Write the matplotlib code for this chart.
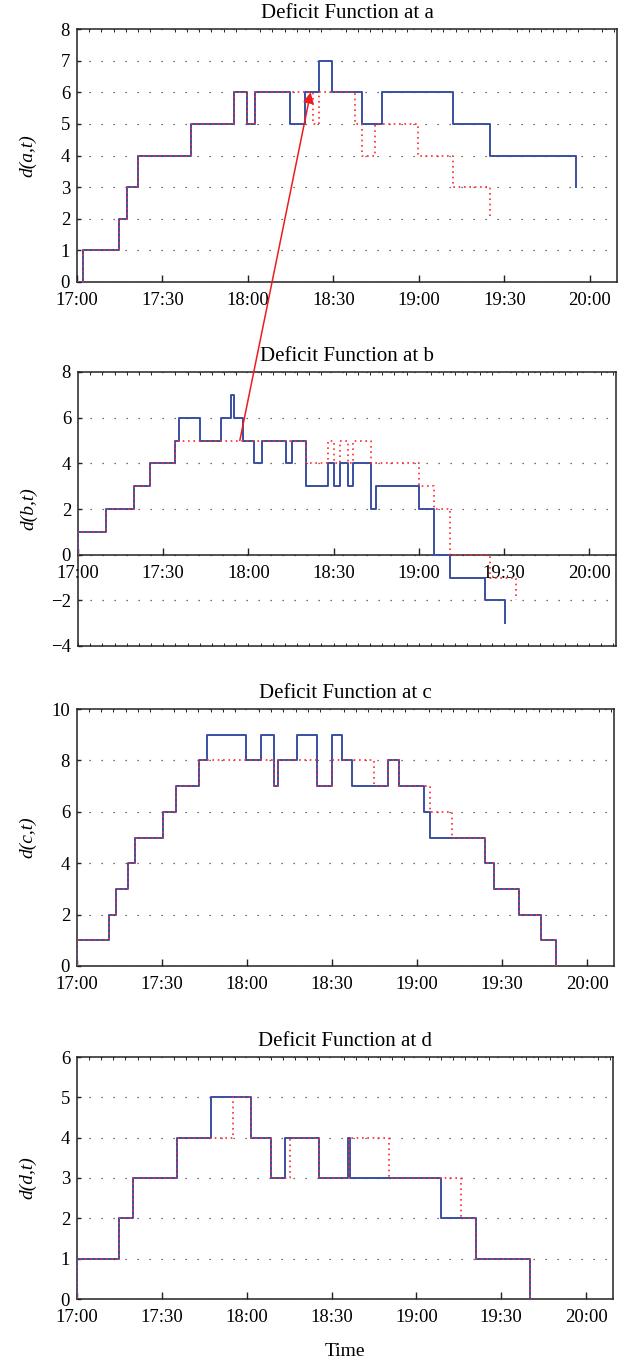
import matplotlib
matplotlib.use('Agg')
import matplotlib.pyplot as plt
from matplotlib.ticker import MultipleLocator
from matplotlib.patches import ConnectionPatch

plt.rcParams['font.family'] = ['Liberation Serif', 'DejaVu Serif']

# ---------------- data (minutes after 17:00) ----------------
blue_a_t = [0, 2.2, 14.7, 17.4, 21.5, 39.9, 55.0, 59.6, 62.5, 74.6, 79.9, 85.0, 89.5, 100.0, 107.0, 131.9, 145.1, 175.0]
blue_a_v = [0, 1, 2, 3, 4, 5, 6, 5, 6, 5, 6, 7, 6, 5, 6, 5, 4, 3]
red_a_t = [0, 2.2, 14.7, 17.4, 21.5, 39.9, 55.0, 59.6, 62.5, 82.8, 85.0, 97.7, 100.0, 104.5, 119.5, 131.9, 145.1]
red_a_v = [0, 1, 2, 3, 4, 5, 6, 5, 6, 5, 6, 5, 4, 5, 4, 3, 2]

blue_b_t = [0, 0, 10.0, 19.9, 25.2, 34.2, 35.4, 42.8, 50.3, 53.8, 54.9, 58.0, 62.0, 64.9, 73.2, 75.5,
            80.2, 88.2, 90.0, 92.2, 95.2, 97.0, 103.2, 105.0, 120.0, 125.5, 130.9, 143.5, 150.3]
blue_b_v = [0, 1, 2, 3, 4, 5, 6, 5, 6, 7, 6, 5, 4, 5, 4, 5,
            3, 4, 3, 4, 3, 4, 2, 3, 2, 0, -1, -2, -3]
red_b_t = [0, 0, 10.0, 19.9, 25.2, 34.2, 80.2, 88.2, 90.0, 92.2, 95.2, 97.0, 103.2, 120.0, 125.5, 131.0, 145.2, 154.4]
red_b_v = [0, 1, 2, 3, 4, 5, 4, 5, 4, 5, 4, 5, 4, 3, 2, 0, -1, -2]

blue_c_t = [0, 0, 11.2, 13.6, 18.1, 20.5, 30.2, 35.0, 43.0, 46.0, 59.7, 65.0, 69.6, 70.9, 77.8, 84.7,
            90.0, 93.4, 96.9, 109.6, 113.6, 122.4, 124.5, 144.1, 147.0, 155.8, 163.7, 169.2]
blue_c_v = [0, 1, 2, 3, 4, 5, 6, 7, 8, 9, 8, 9, 7, 8, 9, 7,
            9, 8, 7, 8, 7, 6, 5, 4, 3, 2, 1, 0]
red_c_t = [0, 0, 11.2, 13.6, 18.1, 20.5, 30.2, 35.0, 43.0, 69.6, 70.9, 84.7, 90.0, 104.7, 109.6, 113.8,
           124.5, 132.2, 144.1, 147.0, 155.8, 163.7, 169.2]
red_c_v = [0, 1, 2, 3, 4, 5, 6, 7, 8, 7, 8, 7, 8, 7, 8, 7,
           6, 5, 4, 3, 2, 1, 0]

blue_d_t = [0, 0, 14.8, 19.9, 35.4, 47.2, 61.4, 68.5, 73.5, 85.5, 95.8, 96.4, 128.7, 141.0, 160.0]
blue_d_v = [0, 1, 2, 3, 4, 5, 4, 3, 4, 3, 4, 3, 2, 1, 0]
red_d_t = [0, 0, 14.8, 19.9, 35.4, 55.1, 61.4, 68.5, 75.4, 85.5, 96.1, 110.4, 135.6, 141.0, 160.0]
red_d_v = [0, 1, 2, 3, 4, 5, 4, 3, 4, 3, 4, 3, 2, 1, 0]

xtick_pos = [0, 30, 60, 90, 120, 150, 180]
xtick_labels = ['17:00', '17:30', '18:00', '18:30', '19:00', '19:30', '20:00']

titles = ['Deficit Function at a', 'Deficit Function at b', 'Deficit Function at c', 'Deficit Function at d']
ylabels = ['d(a,t)', 'd(b,t)', 'd(c,t)', 'd(d,t)']

# ---------------- figure ----------------
W, H = 633, 1361
fig = plt.figure(figsize=(W / 100, H / 100), dpi=100)

def add_ax(l, r, t, b):
    return fig.add_axes([l / W, 1 - b / H, (r - l) / W, (b - t) / H])

boxes = [(77, 617, 29, 282), (78, 616, 372, 646), (77, 614, 709, 966), (77, 613, 1057, 1299)]
ylims = [(0, 8), (-4, 8), (0, 10), (0, 6)]
ysteps = [1, 2, 2, 1]
series = [(blue_a_t, blue_a_v, red_a_t, red_a_v),
          (blue_b_t, blue_b_v, red_b_t, red_b_v),
          (blue_c_t, blue_c_v, red_c_t, red_c_v),
          (blue_d_t, blue_d_v, red_d_t, red_d_v)]

BLUE = '#3a4fa3'
RED = '#ff2a2a'
axes = []
for i in range(4):
    ax = add_ax(*boxes[i])
    axes.append(ax)
    bt, bv, rt, rv = series[i]
    ax.step(bt, bv, where='post', color=BLUE, lw=1.4, zorder=3)
    ax.step(rt, rv, where='post', color=RED, lw=1.2, linestyle=(0, (1, 2.2)), zorder=4)
    ax.set_xlim(0, 189.5)
    ax.set_ylim(*ylims[i])
    ax.yaxis.set_major_locator(MultipleLocator(ysteps[i]))
    ax.set_xticks(xtick_pos)
    ax.set_xticklabels(xtick_labels)
    ax.xaxis.set_minor_locator(MultipleLocator(30 / 7))
    ax.tick_params(axis='both', which='major', direction='in', labelsize=13.5, width=1.0, color='#222222')
    ax.tick_params(axis='x', which='major', length=5, pad=7.5)
    ax.tick_params(axis='y', which='major', length=3, pad=5)
    ax.tick_params(axis='x', which='minor', direction='in', top=True, bottom=False, length=2, width=0.6)
    ax.yaxis.grid(True, linestyle=(0, (1, 8.6)), color='#444444', lw=0.9)
    ax.set_axisbelow(True)
    for s in ax.spines.values():
        s.set_linewidth(1.1)
        s.set_color('#222222')
    ax.set_title(titles[i], fontsize=15, pad=8)
    ax.set_ylabel(ylabels[i], fontsize=14, style='italic')
    ax.yaxis.set_label_coords(-0.075, 0.5)

# panel b: x axis at y = 0, box closed at the bottom
axb = axes[1]
axb.spines['bottom'].set_position(('data', 0))
sec = axb.secondary_xaxis('bottom')
sec.set_xticks([])
sec.xaxis.set_minor_locator(MultipleLocator(30 / 7))
sec.tick_params(which='minor', direction='in', length=2, width=0.6)
sec.spines['bottom'].set_linewidth(1.1)
sec.spines['bottom'].set_color('#222222')

axes[3].set_xlabel('Time', fontsize=14, labelpad=12)

# arrow from b to a
con = ConnectionPatch(xyA=(57, 5), coordsA=axes[1].transData,
                      xyB=(82, 6), coordsB=axes[0].transData,
                      arrowstyle='-|>', color='#ee1c1c', lw=1.1, mutation_scale=16, zorder=10)
fig.add_artist(con)

fig.savefig('out.png', dpi=100)
